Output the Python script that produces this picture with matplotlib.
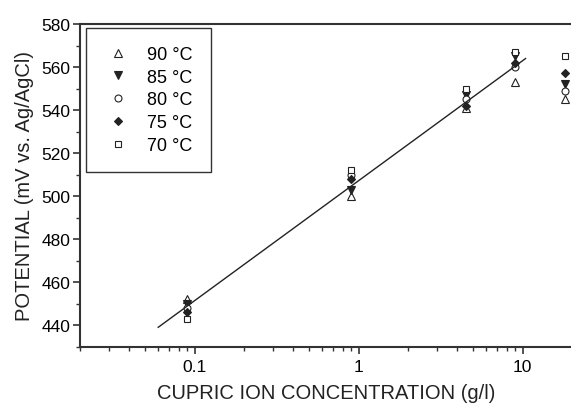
import numpy as np
import matplotlib
matplotlib.use('Agg')
import matplotlib.pyplot as plt
from matplotlib.ticker import MultipleLocator, LogLocator, FixedFormatter, FixedLocator

plt.rcParams['font.family'] = ['Liberation Sans', 'DejaVu Sans']

#concentrations (g/l)
conc = [0.09, 0.9, 4.5, 9.0, 18.0]

#potentials (mV vs Ag/AgCl)
pot_90 = [452, 500, 541, 553, 545]
pot_85 = [450, 503, 547, 565, 552]
pot_80 = [448, 510, 545, 560, 549]
pot_75 = [446, 508, 542, 562, 557]
pot_70 = [443, 512, 550, 567, 565]

#linear fit vs log10(conc)
fit_slope = 55.8
fit_intercept = 507.2
fit_range = [0.06, 10.4]

x_ticks = [0.1, 1, 10]
x_ticklabels = ['0.1', '1', '10']

fig = plt.figure(figsize=(5.71, 4.06), dpi=100)
ax = fig.add_axes([0.140, 0.1436, 0.862, 0.7948])

ink = '#222222'
ms = 5.5
ax.plot(conc, pot_90, linestyle='none', marker='^', ms=ms, mfc='white', mec=ink, mew=0.8, label='90 °C')
ax.plot(conc, pot_85, linestyle='none', marker='v', ms=ms, mfc=ink, mec=ink, mew=0.8, label='85 °C')
ax.plot(conc, pot_80, linestyle='none', marker='o', ms=ms - 0.5, mfc='white', mec=ink, mew=0.8, label='80 °C')
ax.plot(conc, pot_75, linestyle='none', marker='D', ms=ms - 1, mfc=ink, mec=ink, mew=0.8, label='75 °C')
ax.plot(conc, pot_70, linestyle='none', marker='s', ms=ms - 0.5, mfc='white', mec=ink, mew=0.8, label='70 °C')

xf = np.array(fit_range)
ax.plot(xf, fit_slope * np.log10(xf) + fit_intercept, color=ink, lw=1.0)

ax.set_xscale('log')
ax.set_xlim(0.02, 20)
ax.set_ylim(430, 580)
ax.xaxis.set_major_locator(FixedLocator(x_ticks))
ax.xaxis.set_major_formatter(FixedFormatter(x_ticklabels))
ax.xaxis.set_minor_locator(LogLocator(base=10, subs=np.arange(2, 10)))
ax.xaxis.set_minor_formatter(FixedFormatter([]))
ax.yaxis.set_major_locator(MultipleLocator(20))
ax.yaxis.set_minor_locator(MultipleLocator(10))

ax.spines['right'].set_visible(False)
for s in ['left', 'bottom', 'top']:
    ax.spines[s].set_linewidth(1.5)
    ax.spines[s].set_color('#333333')
ax.tick_params(which='major', direction='out', length=5, width=1.2, color='#333333', labelsize=12.5, pad=2)
ax.tick_params(which='minor', direction='out', length=3, width=1.0, color='#333333')
ax.tick_params(axis='x', pad=4)

ax.set_xlabel('CUPRIC ION CONCENTRATION (g/l)', fontsize=14.5, color='#222222', labelpad=6)
ax.set_ylabel('POTENTIAL (mV vs. Ag/AgCl)', fontsize=14.5, color='#222222', labelpad=5)

leg = ax.legend(loc='upper left', bbox_to_anchor=(0.012, 0.988), borderaxespad=0,
                fontsize=13, fancybox=False, edgecolor='#333333', framealpha=1,
                borderpad=1.0, handlelength=1.6, handletextpad=0.8, labelspacing=0.32)
leg.get_frame().set_linewidth(1.0)

fig.savefig('out.png', dpi=100)
